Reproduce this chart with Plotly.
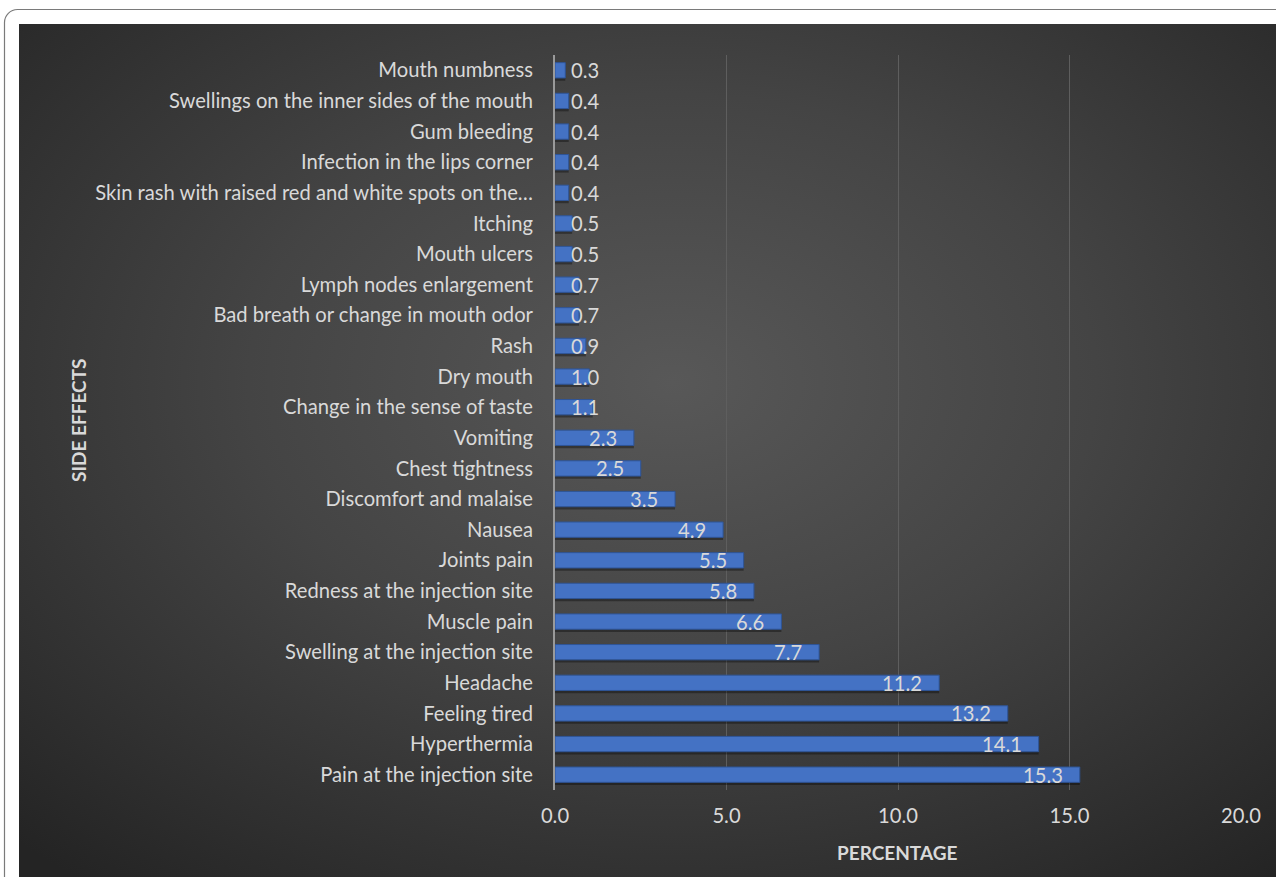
import base64
import plotly.graph_objects as go

categories = [
    "Mouth numbness",
    "Swellings on the inner sides of the mouth",
    "Gum bleeding",
    "Infection in the lips corner",
    "Skin rash with raised red and white spots on the…",
    "Itching",
    "Mouth ulcers",
    "Lymph nodes enlargement",
    "Bad breath or change in mouth odor",
    "Rash",
    "Dry mouth",
    "Change in the sense of taste",
    "Vomiting",
    "Chest tightness",
    "Discomfort and malaise",
    "Nausea",
    "Joints pain",
    "Redness at the injection site",
    "Muscle pain",
    "Swelling at the injection site",
    "Headache",
    "Feeling tired",
    "Hyperthermia",
    "Pain at the injection site",
]
values = [0.3, 0.4, 0.4, 0.4, 0.4, 0.5, 0.5, 0.7, 0.7, 0.9, 1.0, 1.1,
          2.3, 2.5, 3.5, 4.9, 5.5, 5.8, 6.6, 7.7, 11.2, 13.2, 14.1, 15.3]
x_ticks = [0, 5, 10, 15, 20]

W, H = 1276, 877
L, R, T, B = 555, 35, 55, 87
PW, PH = W - L - R, H - T - B

# reversed so first category is at top
cats_plot = categories[::-1]
vals_plot = values[::-1]

FONT = "Lato"
TXT = "#d9d9d9"
FS = 20.2

svg = f'''<svg xmlns="http://www.w3.org/2000/svg" width="{W}" height="{H}" viewBox="0 0 {W} {H}">
<defs>
<radialGradient id="g" cx="52%" cy="42%" r="75%" fx="52%" fy="42%">
<stop offset="0" stop-color="#585858"/>
<stop offset="0.45" stop-color="#444444"/>
<stop offset="1" stop-color="#242424"/>
</radialGradient>
</defs>
<rect x="0" y="0" width="{W}" height="{H}" fill="#ffffff"/>
<rect x="4.5" y="9.5" width="{W+40}" height="{H+40}" rx="13" ry="13" fill="#ffffff" stroke="#7a7a7a" stroke-width="1.2"/>
<rect x="19" y="24" width="{W-19}" height="{H-24}" fill="url(#g)"/>
</svg>'''
src = "data:image/svg+xml;base64," + base64.b64encode(svg.encode()).decode()

fig = go.Figure()
# soft drop shadow under the bars
fig.add_trace(go.Bar(
    x=vals_plot, y=cats_plot, orientation="h",
    marker=dict(color="rgba(0,0,0,0.35)", line=dict(width=0)),
    width=0.5, offset=-0.34, hoverinfo="skip",
))
fig.add_trace(go.Bar(
    x=vals_plot, y=cats_plot, orientation="h",
    marker=dict(color="#4472c4", line=dict(color="#2f5597", width=1)),
    width=0.5, offset=-0.25, hoverinfo="x+y",
))

annotations = []
for c, v in zip(cats_plot, vals_plot):
    if v >= 2:
        annotations.append(dict(x=v, y=c, xref="x", yref="y", text=f"{v:.1f}",
                                showarrow=False, xanchor="right", xshift=-15,
                                font=dict(family=FONT, size=FS, color=TXT)))
    else:
        annotations.append(dict(x=0, y=c, xref="x", yref="y", text=f"{v:.1f}",
                                showarrow=False, xanchor="left", xshift=14,
                                font=dict(family=FONT, size=FS, color=TXT)))

annotations.append(dict(text="<b>SIDE EFFECTS</b>", xref="paper", yref="paper",
                        x=(78 - L) / PW, y=(H - B - 420) / PH, textangle=-90,
                        showarrow=False, xanchor="center", yanchor="middle",
                        font=dict(family=FONT, size=19, color=TXT)))
annotations.append(dict(text="<b>PERCENTAGE</b>", xref="paper", yref="paper",
                        x=(897 - L) / PW, y=(H - B - 853) / PH,
                        showarrow=False, xanchor="center", yanchor="middle",
                        font=dict(family=FONT, size=19, color=TXT)))

fig.update_layout(
    width=W, height=H,
    margin=dict(l=L, r=R, t=T, b=B),
    paper_bgcolor="#ffffff",
    plot_bgcolor="rgba(0,0,0,0)",
    showlegend=False,
    barmode="overlay",
    font=dict(family=FONT, color=TXT, size=FS),
    images=[dict(source=src, xref="paper", yref="paper",
                 x=-L / PW, y=1 + T / PH, sizex=W / PW, sizey=H / PH,
                 xanchor="left", yanchor="top", sizing="stretch", layer="below")],
    annotations=annotations,
    xaxis=dict(range=[0, 20], tickvals=x_ticks,
               ticktext=[f"{t:.1f}" for t in x_ticks],
               showgrid=True, gridcolor="#5e5e5e", gridwidth=1,
               zeroline=False, showline=False, ticks="",
               ticklabelstandoff=12,
               tickfont=dict(family=FONT, size=FS, color=TXT)),
    yaxis=dict(type="category", showgrid=False, zeroline=False,
               showline=True, linecolor="#9a9a9a", linewidth=2,
               ticks="", ticklabelstandoff=16,
               tickfont=dict(family=FONT, size=FS, color=TXT)),
)

fig.write_html("out.html")
